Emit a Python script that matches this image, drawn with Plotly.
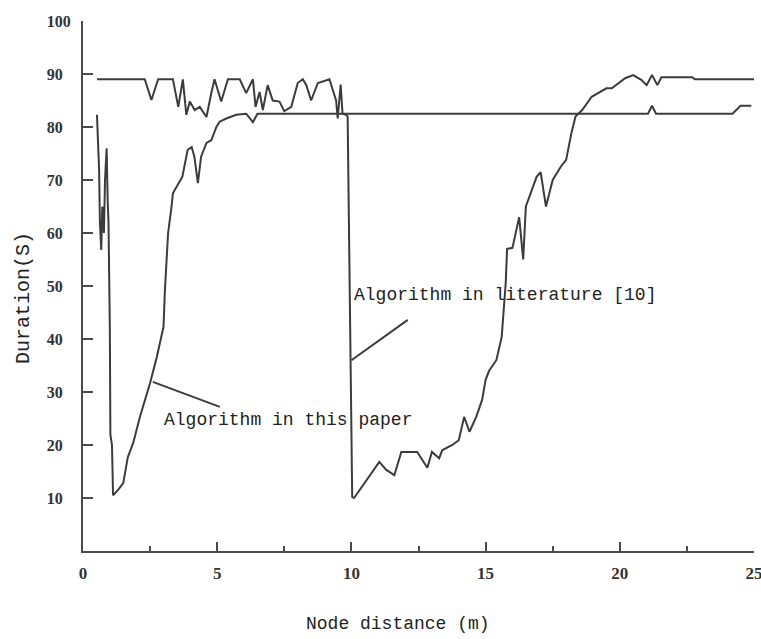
import plotly.graph_objects as go

# Algorithm in literature [10]
lit_x = [0.52, 2.3, 2.55, 2.8, 3.35, 3.55, 3.72, 3.85, 3.98, 4.16, 4.35, 4.6, 4.78, 4.9, 5.15, 5.4, 5.84,
         6.08, 6.33, 6.43, 6.58, 6.7, 6.88, 7.07, 7.32, 7.5, 7.76, 8.0, 8.19, 8.32, 8.5, 8.75, 9.18, 9.43,
         9.49, 9.6, 9.67, 9.8, 9.86, 9.9, 9.97, 10.03, 10.1, 10.56, 11.04, 11.3, 11.6, 11.86, 12.45, 12.83,
         13.0, 13.27, 13.38, 13.76, 14.0, 14.2, 14.4, 14.65, 14.87, 15.0, 15.13, 15.4, 15.6, 15.75, 15.8,
         16.0, 16.25, 16.4, 16.5, 16.9, 17.05, 17.25, 17.5, 17.8, 18.0, 18.2, 18.35, 18.6, 18.95, 19.5,
         19.7, 20.2, 20.5, 20.8, 21.0, 21.2, 21.4, 21.55, 22.7, 22.8, 25.0]
lit_y = [89, 89, 85.1, 89, 89, 83.8, 89, 82.3, 84.8, 83.2, 83.8, 81.9, 86.4, 89, 84.8, 89, 89,
         86.4, 89, 83.8, 86.6, 83.2, 87.9, 85, 84.8, 83, 83.8, 88.3, 89, 87.9, 85, 88.3, 89, 85,
         81.6, 88, 82.5, 82.3, 82, 65, 40, 10.2, 10, 13.4, 16.8, 15.3, 14.3, 18.7, 18.7, 15.7,
         18.7, 17.5, 19, 20, 20.9, 25.3, 22.5, 25.3, 28.5, 32.3, 34, 36, 40.4, 50.6, 57,
         57.2, 63, 55, 65, 70.6, 71.5, 65, 70, 72.5, 73.8, 78.9, 82, 83.2, 85.7, 87.3,
         87.3, 89.2, 89.8, 88.9, 87.9, 89.8, 87.9, 89.4, 89.4, 89, 89]

# Algorithm in this paper
our_x = [0.52, 0.55, 0.6, 0.63, 0.68, 0.72, 0.78, 0.82, 0.88, 0.92, 0.95, 1.0, 1.02, 1.08, 1.12, 1.3,
         1.5, 1.67, 1.87, 2.12, 2.5, 2.75, 3.0, 3.05, 3.17, 3.3, 3.35, 3.7, 3.9, 4.05, 4.15, 4.28, 4.4,
         4.6, 4.78, 4.97, 5.09, 5.34, 5.71, 6.08, 6.33, 6.5, 21.05, 21.2, 21.35, 24.2, 24.5, 24.9]
our_y = [82.3, 78, 72, 62, 56.8, 65, 60, 70, 76, 66, 62, 42, 22, 20, 10.5, 11.5,
         12.8, 17.7, 20.4, 25.3, 31.7, 36.6, 42.3, 49, 60, 65, 67.5, 70.6, 75.7, 76.2, 74.4, 69.4, 74.4,
         77, 77.5, 80, 81, 81.6, 82.3, 82.5, 80.9, 82.5, 82.5, 84, 82.5, 82.5, 84, 84]

x_ticks = [0, 5, 10, 15, 20, 25]
x_minor = [2.5, 7.5, 12.5, 17.5, 22.5]
y_ticks = [10, 20, 30, 40, 50, 60, 70, 80, 90, 100]

LINE = "#3c3c3c"
AX = "#4a4a4a"
MONO = "Liberation Mono"
SERIF = "Liberation Serif"

fig = go.Figure()
fig.add_trace(go.Scatter(x=lit_x, y=lit_y, mode="lines", line=dict(color=LINE, width=2),
                         name="Algorithm in literature [10]", showlegend=False))
fig.add_trace(go.Scatter(x=our_x, y=our_y, mode="lines", line=dict(color=LINE, width=2),
                         name="Algorithm in this paper", showlegend=False))

# leader lines for the labels
fig.add_shape(type="line", x0=10.0, y0=36, x1=12.1, y1=43.6, line=dict(color=LINE, width=2))
fig.add_shape(type="line", x0=2.6, y0=31.9, x1=5.1, y1=27.2, line=dict(color=LINE, width=2))

fig.add_annotation(x=10.03, y=48.3, text="Algorithm in literature [10]", showarrow=False,
                   xanchor="left", yanchor="middle", font=dict(family=MONO, size=18, color="#222"))
fig.add_annotation(x=2.94, y=24.7, text="Algorithm in this paper", showarrow=False,
                   xanchor="left", yanchor="middle", font=dict(family=MONO, size=18, color="#222"))

fig.add_annotation(xref="paper", yref="paper", x=(398 - 83) / 671, y=(551 - 624) / 530,
                   text="Node distance (m)", showarrow=False, xanchor="center", yanchor="middle",
                   font=dict(family=MONO, size=18, color="#222"))
fig.add_annotation(xref="paper", yref="paper", x=(23 - 83) / 671, y=(551 - 298) / 530,
                   text="Duration(S)", showarrow=False, textangle=-90, xanchor="center", yanchor="middle",
                   font=dict(family=MONO, size=20, color="#222"))

y_text = [str(v) if v >= 100 else str(v) + "\u2007" for v in y_ticks]

fig.update_xaxes(range=[0, 25], tickvals=x_ticks, ticktext=[str(v) for v in x_ticks],
                 ticks="inside", ticklen=9, tickwidth=2, tickcolor=AX,
                 minor=dict(tickvals=x_minor, ticks="inside", ticklen=5, tickwidth=2, tickcolor=AX),
                 showline=True, linecolor=AX, linewidth=2, showgrid=False, zeroline=False,
                 ticklabelstandoff=6, automargin=False, ticklabeloverflow="allow",
                 tickfont=dict(family=SERIF, size=17, color="#333", weight="bold"))
fig.update_yaxes(range=[0, 100], tickvals=y_ticks, ticktext=y_text,
                 ticks="inside", ticklen=10, tickwidth=2, tickcolor=AX,
                 showline=True, linecolor=AX, linewidth=2, showgrid=False, zeroline=False,
                 ticklabelstandoff=7, automargin=False, ticklabeloverflow="allow",
                 tickfont=dict(family=SERIF, size=16, color="#333", weight="bold"))

fig.update_layout(width=761, height=639, margin=dict(l=83, r=7, t=21, b=88),
                  plot_bgcolor="white", paper_bgcolor="white", template="none")

fig.write_html("out.html", config={"displayModeBar": False},
               post_script="document.body.style.margin='0';document.body.style.overflow='hidden';")
